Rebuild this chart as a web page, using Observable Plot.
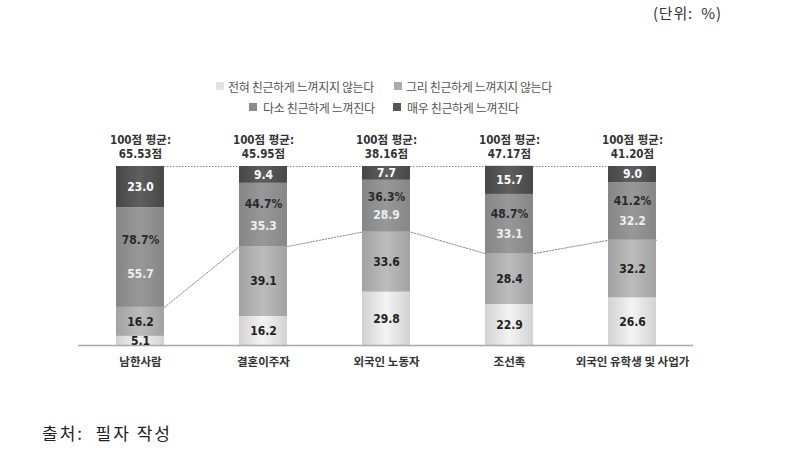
<!DOCTYPE html>
<html><head><meta charset="utf-8">
<script src="https://cdn.jsdelivr.net/npm/d3@7"></script>
<script src="https://cdn.jsdelivr.net/npm/@observablehq/plot@0.6"></script>
<style>
body{margin:0;background:#fff;}
#wrap{position:relative;width:797px;height:465px;font-family:"Noto Sans CJK KR",sans-serif;overflow:hidden;}
#chart{position:absolute;left:0;top:0;}
#unit{position:absolute;left:653px;top:2px;font-size:15px;color:#333;letter-spacing:0.8px;white-space:pre;}
.leg{position:absolute;font-size:12px;color:#555;letter-spacing:-0.35px;white-space:nowrap;display:flex;align-items:center;height:14px;}
.sw{display:inline-block;width:8px;height:8px;margin-right:4px;}
#src{position:absolute;left:42px;top:420px;font-size:17px;color:#222;letter-spacing:2px;white-space:pre;}
</style></head>
<body>
<div id="wrap">
  <div id="chart"></div>
  <div id="unit">(단위:  %)</div>
  <div id="legend"></div>
  <div id="src">출처:  필자 작성</div>
</div>
<script>
const categories = ["남한사람", "결혼이주자", "외국인 노동자", "조선족", "외국인 유학생 및 사업가"];
const levels = ["전혀 친근하게 느껴지지 않는다", "그리 친근하게 느껴지지 않는다", "다소 친근하게 느껴진다", "매우 친근하게 느껴진다"];
const notAtAll = [5.1, 16.2, 29.8, 22.9, 26.6];
const notVery  = [16.2, 39.1, 33.6, 28.4, 32.2];
const somewhat = [55.7, 35.3, 28.9, 33.1, 32.2];
const very     = [23.0, 9.4, 7.7, 15.7, 9.0];
const positiveShare = ["78.7%", "44.7%", "36.3%", "48.7%", "41.2%"];
const averages = ["65.53", "45.95", "38.16", "47.17", "41.20"];

const series = [notAtAll, notVery, somewhat, very];
const legendColors = ["#e2e2e2", "#ababab", "#8c8c8c", "#565656"];
const gradStops = [["#d2d2d2", "#f4f4f4"], ["#a2a2a2", "#bcbcbc"], ["#868686", "#989898"], ["#474747", "#5e5e5e"]];
const labelColors = ["#222", "#222", "#eeeeee", "#ffffff"];
const hw = 0.195;

// stacked rows
const rows = [];
categories.forEach((c, i) => {
  let acc = 0;
  series.forEach((s, k) => {
    rows.push({i, k, y1: acc, y2: acc + s[i], v: s[i]});
    acc += s[i];
  });
});
const negTop = categories.map((c, i) => notAtAll[i] + notVery[i]);
const linePts = [];
categories.forEach((c, i) => { linePts.push({x: i - hw, y: negTop[i]}); linePts.push({x: i + hw, y: negTop[i]}); });

const numFont = "DejaVu Sans Condensed, Noto Sans CJK KR, sans-serif";
const marks = [
  Plot.ruleY([100], {x1: 0, x2: 4, stroke: "#8a8a8a", strokeDasharray: "1.5,1.5", strokeWidth: 1}),
  Plot.line(linePts, {x: "x", y: "y", stroke: "#8a8a8a", strokeDasharray: "1.5,1.5", strokeWidth: 1})
];
levels.forEach((lv, k) => {
  marks.push(Plot.rectY(rows.filter(r => r.k === k), {x1: r => r.i - hw, x2: r => r.i + hw, y1: "y1", y2: "y2", fill: `url(#grad${k})`}));
});
marks.push(Plot.ruleY([0], {stroke: "#a8a8a8", strokeWidth: 1.5}));
// value labels
levels.forEach((lv, k) => {
  const data = rows.filter(r => r.k === k);
  marks.push(Plot.text(data, {
    x: "i",
    y: r => k === 2 ? (r.y1 + r.y2) / 2 - 0.17 * r.v : (r.y1 + r.y2) / 2,
    text: r => r.v.toFixed(1),
    fill: labelColors[k], fontSize: 12, fontWeight: "bold"
  }));
});
// positive share labels
marks.push(Plot.text(rows.filter(r => r.k === 2), {
  x: "i", y: r => (r.y1 + r.y2) / 2 + 0.17 * r.v,
  text: r => positiveShare[r.i], fill: "#2a2a2a", fontSize: 12, fontWeight: "bold"
}));
// averages
marks.push(Plot.text(categories, {
  x: (d, i) => i, y: 100, text: (d, i) => `100점 평균:\n${averages[i]}점`,
  lineAnchor: "bottom", dy: -9, fontSize: 11.5, fontWeight: "bold", fill: "#333", lineHeight: 1.15
}));
// category labels
marks.push(Plot.text(categories, {
  x: (d, i) => i, y: 0, text: d => d, dy: 17, fontSize: 11.5, fontWeight: "bold", fill: "#333",
  fontFamily: "Noto Sans CJK KR, sans-serif"
}));

const chart = Plot.plot({
  width: 797, height: 400,
  marginTop: 166, marginBottom: 55, marginLeft: 78, marginRight: 104,
  x: {type: "linear", domain: [-0.504, 4.496], axis: null},
  y: {domain: [0, 100], axis: null},
  style: {fontFamily: numFont, background: "transparent"},
  marks
});

// gradients
const ns = "http://www.w3.org/2000/svg";
const defs = document.createElementNS(ns, "defs");
gradStops.forEach(([edge, mid], k) => {
  const g = document.createElementNS(ns, "linearGradient");
  g.setAttribute("id", `grad${k}`);
  g.setAttribute("x1", "0"); g.setAttribute("x2", "1"); g.setAttribute("y1", "0"); g.setAttribute("y2", "0");
  [[0, edge], [0.5, mid], [1, edge]].forEach(([o, c]) => {
    const s = document.createElementNS(ns, "stop");
    s.setAttribute("offset", o); s.setAttribute("stop-color", c);
    g.appendChild(s);
  });
  defs.appendChild(g);
});
chart.insertBefore(defs, chart.firstChild);
document.getElementById("chart").appendChild(chart);

// legend
const legPos = [[216, 79], [394, 79], [249, 100], [393, 100]];
const legGap = [4, 4, 6, 6];
const legEl = document.getElementById("legend");
levels.forEach((lv, k) => {
  const d = document.createElement("div");
  d.className = "leg";
  d.style.left = legPos[k][0] + "px";
  d.style.top = legPos[k][1] + "px";
  d.innerHTML = `<span class="sw" style="background:${legendColors[k]};margin-right:${legGap[k]}px"></span><span>${lv}</span>`;
  legEl.appendChild(d);
});
</script>
</body></html>
